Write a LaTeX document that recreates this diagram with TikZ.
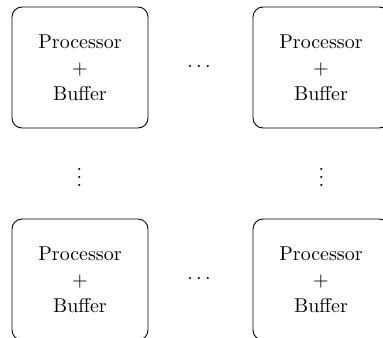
\documentclass[tikz,border=0pt]{standalone}
\begin{document}
\begin{tikzpicture}[x=0.5pt,y=-0.5pt,
  pbox/.style={draw, rounded corners=5pt, minimum width=68pt, minimum height=60.5pt,
    align=center, inner sep=0pt, line width=0.45pt},
  dots/.style={inner sep=0pt, anchor=base}]
\useasboundingbox (0,0) rectangle (383,337);
% processor/buffer units
\node[pbox] (tl) at (80,67.5)    {Processor\\[0.9pt]$+$\\[0.9pt]Buffer};
\node[pbox] (tr) at (321,67.5)   {Processor\\[0.9pt]$+$\\[0.9pt]Buffer};
\node[pbox] (bl) at (80,279.5)   {Processor\\[0.9pt]$+$\\[0.9pt]Buffer};
\node[pbox] (br) at (321,279.5)  {Processor\\[0.9pt]$+$\\[0.9pt]Buffer};
% ellipses between the units
\node[dots] (htop) at (199,71.7) {$\cdots$};
\node[dots] (hbot) at (199,283)  {$\cdots$};
\node[dots] (vl)   at (79.5,186) {$\vdots$};
\node[dots] (vr)   at (321.5,186) {$\vdots$};
\end{tikzpicture}
\end{document}
